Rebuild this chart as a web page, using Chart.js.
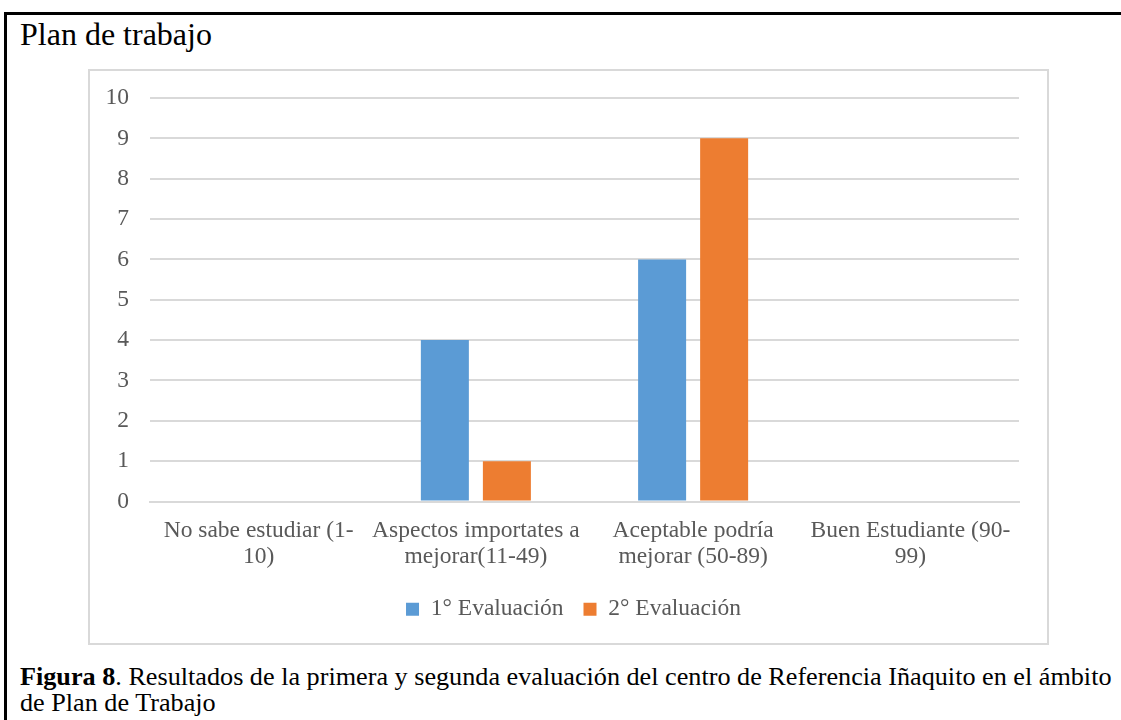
<!DOCTYPE html>
<html>
<head>
<meta charset="utf-8">
<script src="https://cdn.jsdelivr.net/npm/chart.js@4/dist/chart.umd.min.js"></script>
<style>
  html, body { margin: 0; padding: 0; background: #fff; }
  body { width: 1121px; height: 720px; position: relative; overflow: hidden; font-family: "Liberation Serif", "Times New Roman", serif; }
  #frame { position: absolute; left: 4px; top: 12px; width: 1130px; height: 720px; border-top: 3px solid #000; border-left: 3px solid #000; box-sizing: border-box; }
  #title { position: absolute; left: 20px; top: 18px; font-size: 32px; line-height: 1; color: #000; white-space: nowrap; }
  #box { position: absolute; left: 88px; top: 69px; width: 961px; height: 576px; border: 2px solid #d9d9d9; box-sizing: border-box; }
  #wrap { position: absolute; left: 90px; top: 71px; width: 957px; height: 572px; }
  #caption { position: absolute; left: 20px; top: 664px; width: 1101px; font-size: 26.2px; line-height: 26px; color: #000; }
</style>
</head>
<body>
<div id="frame"></div>
<div id="title">Plan de trabajo</div>
<div id="box"></div>
<div id="wrap"><canvas id="c" width="957" height="572"></canvas></div>
<div id="caption"><b>Figura 8</b>. Resultados de la primera y segunda evaluación del centro de Referencia Iñaquito en el ámbito de Plan de Trabajo</div>
<script>
const categories = [
  ["No sabe estudiar (1-", "10)"],
  ["Aspectos importates a", "mejorar(11-49)"],
  ["Aceptable podría", "mejorar (50-89)"],
  ["Buen Estudiante (90-", "99)"]
];
const seriesNames = ["1° Evaluación", "2° Evaluación"];
const eval1 = [0, 4, 6, 0];
const eval2 = [0, 1, 9, 0];
const yTicks = [0, 1, 2, 3, 4, 5, 6, 7, 8, 9, 10];

const textColor = "#595959";
const fontFam = "'Liberation Serif', 'Times New Roman', serif";

function noPad(s) {
  s.paddingTop = 0; s.paddingBottom = 0; s.paddingLeft = 0; s.paddingRight = 0;
}

const shiftLegend = {
  id: "shiftLegend",
  afterLayout(chart) {
    if (chart.legend) { chart.legend.left += 38; }
  }
};

new Chart(document.getElementById("c"), {
  type: "bar",
  data: {
    labels: categories,
    datasets: [
      { label: seriesNames[0], data: eval1, backgroundColor: "#5B9BD5", borderWidth: 0 },
      { label: seriesNames[1], data: eval2, backgroundColor: "#ED7D31", borderWidth: 0 }
    ]
  },
  plugins: [shiftLegend],
  options: {
    responsive: false,
    animation: false,
    devicePixelRatio: 1,
    categoryPercentage: 0.571,
    barPercentage: 0.774,
    layout: { padding: { top: 27, right: 28, bottom: 12, left: 0 } },
    plugins: {
      legend: {
        position: "bottom",
        labels: {
          color: textColor,
          font: { family: fontFam, size: 23.5 },
          boxWidth: 13,
          boxHeight: 13,
          padding: 20
        }
      },
      tooltip: { enabled: false }
    },
    scales: {
      x: {
        grid: { display: false, drawTicks: false },
        border: { display: true, color: "#d9d9d9", width: 2 },
        ticks: {
          color: textColor,
          font: { family: fontFam, size: 23.5, lineHeight: 1.106 },
          padding: 16,
          maxRotation: 0,
          autoSkip: false
        },
        afterFit: (s) => { s.height = 76; noPad(s); }
      },
      y: {
        min: 0,
        max: 10,
        afterBuildTicks: (s) => { s.ticks = yTicks.map(v => ({ value: v })); },
        grid: { color: "#d9d9d9", lineWidth: 2, drawTicks: false },
        border: { display: false },
        ticks: {
          color: textColor,
          font: { family: fontFam, size: 23.5 },
          padding: 21
        },
        afterFit: (s) => { s.width = 60; noPad(s); }
      }
    }
  }
});
</script>
</body>
</html>
